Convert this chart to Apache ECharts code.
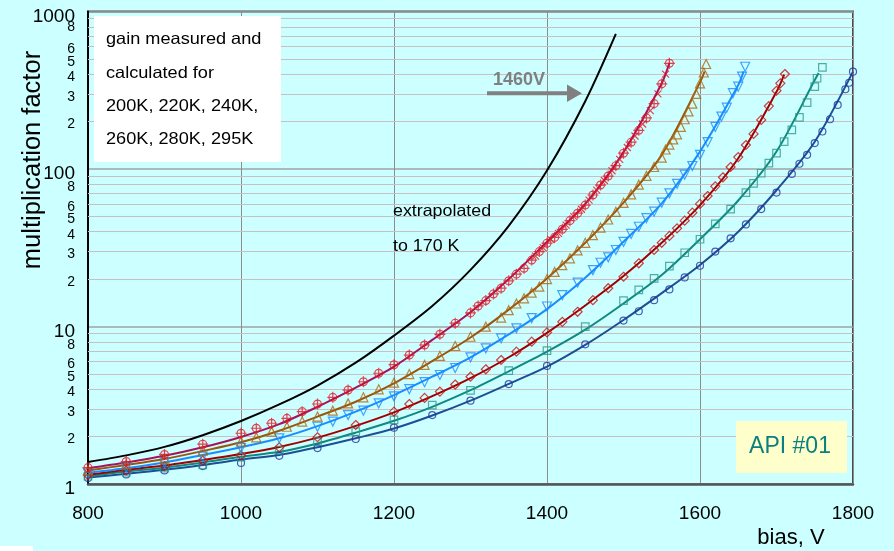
<!DOCTYPE html>
<html>
<head>
<meta charset="utf-8">
<script src="https://cdn.jsdelivr.net/npm/echarts@6/dist/echarts.min.js"></script>
<style>
  html, body { margin: 0; padding: 0; background: #ccffff; }
  #chart { width: 894px; height: 551px; }
</style>
</head>
<body>
<div id="chart"></div>
<script>
// Bias voltage (V) vs. multiplication factor, fitted curves and measured points.

const xTicks = [800, 1000, 1200, 1400, 1600, 1800];
const yDecades = [1, 10, 100];
const yTop = 1000;
const yMinorSteps = [2, 3, 4, 5, 6, 7, 8, 9];
const yMinorLabelled = [2, 3, 4, 5, 6, 8];

// extrapolated to 170 K
const extrap170 = [[800,1.38],[850,1.52],[900,1.72],[950,2.04],[1000,2.51],[1050,3.20],[1100,4.22],[1150,5.89],[1200,8.75],[1250,13.5],[1300,22.9],[1350,43.6],[1400,97.7],[1450,269],[1490,720]];

// 200 K
const fit200 = [[800,1.26],[850,1.37],[900,1.51],[950,1.71],[1000,1.99],[1050,2.40],[1100,3.09],[1150,4.09],[1200,5.56],[1250,8.22],[1300,12.3],[1350,20.0],[1400,34.5],[1450,60.0],[1500,128],[1550,350],[1560,473]];
const meas200 = [[800,1.27],[850,1.39],[900,1.54],[950,1.79],[1000,2.10],[1020,2.26],[1040,2.43],[1060,2.61],[1080,2.88],[1100,3.22],[1120,3.55],[1140,3.95],[1160,4.46],[1180,5.05],[1200,5.72],[1220,6.59],[1240,7.63],[1260,8.92],[1280,10.5],[1300,12.2],[1310,13.5],[1320,14.6],[1330,16.1],[1340,17.5],[1350,19.5],[1360,21.5],[1370,23.4],[1380,26.4],[1390,29.9],[1400,33.8],[1410,36.8],[1420,41.4],[1430,47.0],[1440,52.4],[1450,59.0],[1460,68.4],[1470,79.1],[1480,90.2],[1490,105],[1500,126],[1510,148],[1520,176],[1530,211],[1540,260],[1550,347],[1560,469]];
const meas200b = [[1385,28.0],[1395,31.6],[1405,35.6],[1415,39.0],[1425,44.0],[1435,49.8],[1445,55.5],[1455,63.5],[1465,73.5],[1475,84.5],[1485,97.5],[1495,115],[1505,137],[1515,162],[1525,193],[1535,235],[1545,300],[1555,400]];

// 220 K
const fit220 = [[800,1.22],[850,1.32],[900,1.44],[950,1.62],[1000,1.84],[1050,2.18],[1100,2.68],[1150,3.33],[1200,4.36],[1250,6.03],[1300,8.51],[1350,12.8],[1400,20.2],[1450,34.0],[1500,61.1],[1550,123],[1600,355],[1606,417]];
const meas220 = [[800,1.22],[850,1.33],[900,1.45],[950,1.63],[1000,1.86],[1020,1.98],[1040,2.15],[1060,2.31],[1080,2.49],[1100,2.68],[1120,2.92],[1140,3.25],[1160,3.55],[1180,3.99],[1200,4.40],[1220,4.99],[1240,5.70],[1260,6.50],[1280,7.52],[1300,8.61],[1320,9.97],[1340,11.4],[1350,12.7],[1360,14.0],[1370,15.1],[1380,16.4],[1390,17.9],[1400,20.0],[1410,22.2],[1420,24.5],[1430,27.1],[1440,30.4],[1450,34.0],[1460,38.0],[1470,42.5],[1480,47.8],[1490,53.5],[1500,61.0],[1510,69.0],[1520,79.5],[1530,90.5],[1540,103],[1550,118],[1555,133],[1560,143],[1565,154],[1570,166],[1575,185],[1580,207],[1585,232],[1590,260],[1595,300],[1600,350],[1605,410],[1608,464]];

// 240 K
const fit240 = [[800,1.18],[850,1.26],[900,1.37],[950,1.53],[1000,1.71],[1050,1.95],[1100,2.33],[1150,2.88],[1200,3.67],[1250,4.80],[1300,6.37],[1350,8.91],[1400,12.9],[1450,20.4],[1500,34.5],[1550,60.5],[1600,129],[1650,341],[1657,417]];
const meas240 = [[800,1.17],[850,1.27],[900,1.37],[950,1.49],[1000,1.69],[1050,1.95],[1100,2.31],[1120,2.49],[1140,2.74],[1160,2.92],[1180,3.25],[1200,3.60],[1220,4.00],[1240,4.43],[1260,4.92],[1280,5.45],[1300,6.37],[1320,7.27],[1340,8.41],[1360,9.74],[1380,11.3],[1400,13.4],[1420,15.8],[1440,19.0],[1460,22.8],[1470,25.4],[1480,27.5],[1490,30.6],[1500,34.5],[1510,38.7],[1520,43.0],[1530,48.7],[1540,53.6],[1550,61.1],[1560,70.1],[1570,80.5],[1580,92.0],[1590,104.5],[1600,123],[1610,148],[1620,185],[1628,215],[1635,245],[1643,303],[1650,333],[1655,386],[1659,446]];

// 260 K
const fit260 = [[800,1.14],[850,1.23],[900,1.31],[950,1.42],[1000,1.55],[1050,1.72],[1100,1.97],[1150,2.34],[1200,2.85],[1250,3.61],[1300,4.70],[1350,6.38],[1400,9.12],[1450,13.6],[1500,20.9],[1550,34.0],[1600,59.0],[1650,117],[1700,309],[1710,398]];
const meas260 = [[800,1.14],[850,1.22],[900,1.30],[950,1.41],[1000,1.52],[1050,1.71],[1100,1.98],[1150,2.37],[1200,2.88],[1220,3.22],[1240,3.52],[1260,3.86],[1280,4.28],[1300,4.80],[1320,5.35],[1340,6.13],[1360,6.92],[1380,8.01],[1400,9.17],[1420,10.7],[1440,12.4],[1460,14.7],[1480,17.5],[1500,20.7],[1520,25.2],[1540,30.6],[1550,34.0],[1560,37.6],[1570,42.0],[1580,47.0],[1590,52.8],[1600,60.0],[1610,67.4],[1620,77.6],[1630,88.6],[1640,103],[1650,119],[1660,142],[1670,167],[1680,205],[1690,251],[1700,314],[1705,350],[1711,401]];

// 280 K
const fit280 = [[800,1.12],[850,1.20],[900,1.27],[950,1.37],[1000,1.49],[1050,1.60],[1100,1.81],[1150,2.12],[1200,2.52],[1250,3.09],[1300,3.94],[1350,5.19],[1400,6.92],[1450,9.55],[1500,14.0],[1550,21.2],[1600,35.8],[1650,63.1],[1700,129],[1750,367],[1755,407]];
const meas280 = [[800,1.12],[850,1.19],[900,1.26],[950,1.32],[1000,1.48],[1050,1.64],[1100,1.86],[1150,2.15],[1200,2.55],[1250,3.17],[1300,3.93],[1350,5.24],[1400,7.03],[1450,9.97],[1500,14.6],[1520,17.1],[1540,20.2],[1560,24.2],[1580,29.4],[1600,35.8],[1620,44.8],[1640,55.7],[1660,70.8],[1670,81.0],[1680,94.0],[1690,109],[1700,126],[1710,149],[1720,177],[1730,213],[1740,264],[1750,333],[1753,377],[1760,442]];

// 295 K
const fit295 = [[800,1.10],[850,1.16],[900,1.23],[950,1.32],[1000,1.43],[1050,1.53],[1100,1.71],[1150,1.95],[1200,2.25],[1250,2.72],[1300,3.38],[1350,4.32],[1400,5.56],[1450,7.64],[1500,11.0],[1550,16.3],[1600,24.6],[1650,40.0],[1700,73.3],[1750,149],[1800,415]];
const meas295 = [[800,1.09],[850,1.15],[900,1.22],[950,1.30],[1000,1.36],[1050,1.51],[1100,1.69],[1150,1.93],[1200,2.28],[1250,2.74],[1300,3.38],[1350,4.31],[1400,5.62],[1450,7.71],[1500,10.9],[1520,12.5],[1540,14.7],[1560,17.2],[1580,20.5],[1600,24.3],[1620,29.9],[1640,36.3],[1660,44.5],[1680,55.7],[1700,70.8],[1720,93.0],[1730,108],[1740,123],[1750,146],[1760,173],[1770,207],[1780,255],[1790,321],[1795,353],[1800,415]];

const FONT = '"Liberation Sans", Arial, sans-serif';
const circlePlus = 'path://M10,0A10,10,0,1,1,10,20A10,10,0,1,1,10,0ZM10,-4L10,24M-4,10L24,10';
const crossMark = 'path://M0,0L20,20M20,0L0,20';

function fitLine(name, data, color) {
  return {
    type: 'line', name: name, data: data, smooth: 0.3, symbol: 'none',
    lineStyle: { color: color, width: 2 }, z: 3, silent: true
  };
}
function points(name, data, symbol, size, color, rotate) {
  return {
    type: 'scatter', name: name, data: data, symbol: symbol, symbolSize: size,
    symbolRotate: rotate || 0,
    itemStyle: { color: 'rgba(0,0,0,0)', borderColor: color, borderWidth: 1.2 },
    z: 4, silent: true
  };
}

// the step label right under the top label is drawn with its grid line,
// since the axis drops a label that touches the max label
function labelOnGridLine(v) {
  return v > yTop * 0.75;
}

// label positions on the log axis: decades plus selected intermediate steps
const yLabelValues = [];
yDecades.forEach(function (d) {
  yLabelValues.push(d);
  yMinorLabelled.forEach(function (m) {
    if (!labelOnGridLine(m * d)) yLabelValues.push(m * d);
  });
});
yLabelValues.push(yTop);

function isDecade(v) {
  const l = Math.log10(v);
  return Math.abs(l - Math.round(l)) < 1e-9;
}

// minor horizontal grid lines at 2..9 of every decade
const minorGrid = [];
yDecades.forEach(function (d) {
  yMinorSteps.forEach(function (m) {
    const v = m * d;
    const withLabel = labelOnGridLine(v) && yMinorLabelled.indexOf(m) >= 0;
    minorGrid.push({
      yAxis: v,
      lineStyle: { color: '#c9c0c2', width: 1.2, type: 'solid' },
      label: {
        show: withLabel, position: 'start', distance: 13, formatter: String(m),
        color: '#000', fontSize: 14, fontFamily: FONT
      }
    });
  });
});

const extrapSeries = fitLine('170 K', extrap170, '#000000');
extrapSeries.markLine = {
  silent: true, symbol: ['none', 'none'], z: 1, animation: false,
  emphasis: { disabled: true },
  data: minorGrid
};

const chart = echarts.init(document.getElementById('chart'), null, { renderer: 'canvas' });
chart.setOption({
  animation: false,
  backgroundColor: '#ccffff',
  grid: {
    left: 88, right: 41, top: 11.5, bottom: 67,
    show: true, backgroundColor: '#ccffff', borderColor: '#4a4a4a', borderWidth: 2
  },
  xAxis: {
    type: 'value', min: xTicks[0], max: xTicks[xTicks.length - 1], interval: 200,
    axisLine: { show: true, lineStyle: { color: '#555', width: 2.5 } },
    axisTick: { show: false },
    axisLabel: { color: '#000', fontSize: 19, fontFamily: FONT, margin: 20, showMaxLabel: true, showMinLabel: true, formatter: function (v) { return String(v); } },
    splitLine: { show: true, lineStyle: { color: '#8d8d8d', width: 1 } }
  },
  yAxis: {
    type: 'log', logBase: 10, min: 1, max: yTop,
    axisLine: { show: true, lineStyle: { color: '#000', width: 2 } },
    axisTick: { show: false },
    axisLabel: {
      customValues: yLabelValues,
      showMaxLabel: true, showMinLabel: true, hideOverlap: false,
      color: '#000', fontFamily: FONT, margin: 13, verticalAlign: 'top',
      formatter: function (v) {
        if (isDecade(v)) return '{maj|' + Math.round(v) + '}';
        const step = Math.round(v / Math.pow(10, Math.floor(Math.log10(v) + 1e-9)));
        return '{min|' + step + '}';
      },
      rich: {
        maj: { fontSize: 19, fontFamily: FONT, color: '#000', lineHeight: 10 },
        min: { fontSize: 14, fontFamily: FONT, color: '#000', lineHeight: 6 }
      }
    },
    splitLine: { show: true, lineStyle: { color: '#a2a2a2', width: 1.5 } }
  },
  graphic: [
    { type: 'rect', z: 0, shape: { x: 0, y: 546, width: 33, height: 5 }, style: { fill: '#ffffff' } },
    { type: 'rect', z: 50, shape: { x: 94, y: 16, width: 187, height: 146 }, style: { fill: '#ffffff' } },
    { type: 'text', z: 51, x: 106, y: 39, scaleX: 1.1, style: { text: 'gain measured and', fill: '#000', font: '16.5px ' + FONT, verticalAlign: 'middle' } },
    { type: 'text', z: 51, x: 106, y: 73, scaleX: 1.1, style: { text: 'calculated for', fill: '#000', font: '16.5px ' + FONT, verticalAlign: 'middle' } },
    { type: 'text', z: 51, x: 106, y: 106, scaleX: 1.1, style: { text: '200K, 220K, 240K,', fill: '#000', font: '16.5px ' + FONT, verticalAlign: 'middle' } },
    { type: 'text', z: 51, x: 106, y: 139.5, scaleX: 1.1, style: { text: '260K, 280K, 295K', fill: '#000', font: '16.5px ' + FONT, verticalAlign: 'middle' } },
    { type: 'text', z: 51, x: 393, y: 211.5, scaleX: 1.08, style: { text: 'extrapolated', fill: '#000', font: '16.5px ' + FONT, verticalAlign: 'middle' } },
    { type: 'text', z: 51, x: 393, y: 246, scaleX: 1.08, style: { text: 'to 170 K', fill: '#000', font: '16.5px ' + FONT, verticalAlign: 'middle' } },
    { type: 'text', z: 51, x: 493, y: 80, style: { text: '1460V', fill: '#808080', font: 'bold 18px ' + FONT, verticalAlign: 'middle' } },
    { type: 'rect', z: 51, shape: { x: 487, y: 91.3, width: 82, height: 4 }, style: { fill: '#808080' } },
    { type: 'polygon', z: 51, shape: { points: [[567, 84.5], [582, 93.3], [567, 102]] }, style: { fill: '#808080' } },
    { type: 'rect', z: 50, shape: { x: 736, y: 421, width: 111, height: 52 }, style: { fill: '#ffffcc' } },
    { type: 'text', z: 51, x: 790, y: 446.5, style: { text: 'API #01', fill: '#0b7f80', font: '23px ' + FONT, align: 'center', verticalAlign: 'middle' } },
    { type: 'text', z: 51, x: 791, y: 538, style: { text: 'bias, V', fill: '#000', font: '22px ' + FONT, align: 'center', verticalAlign: 'middle' } },
    { type: 'text', z: 51, x: 33, y: 160, rotation: Math.PI / 2, style: { text: 'multiplication factor', fill: '#000', font: '25.5px ' + FONT, align: 'center', verticalAlign: 'middle' } }
  ],
  series: [
    fitLine('295 K', fit295, '#1d4f95'),
    fitLine('280 K', fit280, '#108a80'),
    fitLine('260 K', fit260, '#a10000'),
    fitLine('240 K', fit240, '#1a8cff'),
    fitLine('220 K', fit220, '#99560d'),
    fitLine('200 K', fit200, '#a3145c'),
    extrapSeries,
    points('295 K data', meas295, 'circle', 7, '#2233a0'),
    points('280 K data', meas280, 'rect', 7.5, '#2a9a8c'),
    points('260 K data', meas260, 'diamond', 9, '#c41010'),
    points('240 K data', meas240, 'triangle', 9, '#1a8cff', 180),
    points('220 K data', meas220, 'triangle', 9, '#b0650f'),
    points('200 K data', meas200, circlePlus, 11, '#e3131f'),
    points('200 K data b', meas200b, crossMark, 7, '#e3131f')
  ]
});
</script>
</body>
</html>
